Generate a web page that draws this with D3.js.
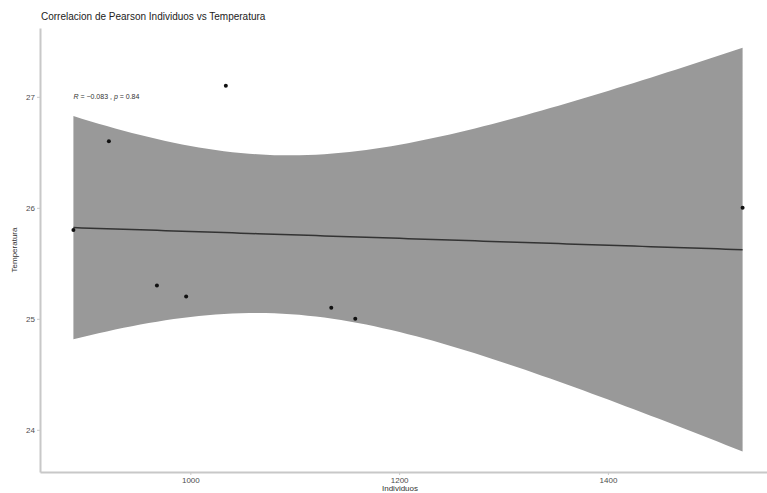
<!DOCTYPE html>
<html lang="es">
<head>
  <meta charset="utf-8">
  <script src="https://d3js.org/d3.v7.min.js"></script>
  <style>
    body { margin: 0; background: #fff; font-family: Arial, 'Liberation Sans', sans-serif; overflow: hidden; }
    .axis path, .axis line { stroke: #c8c8c8; }
    .axis text { fill: #4d4d4d; font-size: 8px; }
    .title { font-size: 10px; fill: #222; }
    .axis-title { font-size: 8px; fill: #333; }
    .annot { font-size: 7px; fill: #333; }
  </style>
</head>
<body>
  <svg id="chart" width="767" height="493"></svg>
  <script>
    // datos
    const individuos  = [888, 922, 968, 996, 1034, 1135, 1158, 1529];
    const temperatura = [25.8, 26.6, 25.3, 25.2, 27.1, 25.1, 25.0, 26.0];
    const xTicks = [1000, 1200, 1400];
    const yTicks = [24, 25, 26, 27];
    const tCrit = 2.447; // t 0.975, gl = 6

    const svg = d3.select("#chart");
    const x = d3.scaleLinear().domain([856, 1561]).range([40, 776]);
    const y = d3.scaleLinear().domain([23.62, 27.62]).range([472, 28]);

    // ajuste lineal + intervalo de confianza (como geom_smooth(method = "lm"))
    const n = individuos.length;
    const mx = d3.mean(individuos), my = d3.mean(temperatura);
    let sxx = 0, sxy = 0, syy = 0;
    individuos.forEach((xi, i) => {
      sxx += (xi - mx) ** 2;
      sxy += (xi - mx) * (temperatura[i] - my);
      syy += (temperatura[i] - my) ** 2;
    });
    const b = sxy / sxx, a = my - b * mx;
    const s = Math.sqrt((syy - sxy * sxy / sxx) / (n - 2));
    const [x0, x1] = d3.extent(individuos);
    const grid = d3.range(0, 81).map(k => x0 + (x1 - x0) * k / 80);
    const fit = grid.map(g => {
      const yh = a + b * g;
      const se = s * Math.sqrt(1 / n + (g - mx) ** 2 / sxx);
      return { x: g, y: yh, lo: yh - tCrit * se, hi: yh + tCrit * se };
    });

    svg.append("path")
      .datum(fit)
      .attr("fill", "#999999")
      .attr("d", d3.area().x(d => x(d.x)).y0(d => y(d.lo)).y1(d => y(d.hi)));

    svg.append("path")
      .datum(fit)
      .attr("fill", "none")
      .attr("stroke", "#333")
      .attr("stroke-width", 1.5)
      .attr("d", d3.line().x(d => x(d.x)).y(d => y(d.y)));

    svg.selectAll(".pt")
      .data(individuos.map((v, i) => [v, temperatura[i]]))
      .enter().append("circle")
      .attr("class", "pt")
      .attr("cx", d => x(d[0]))
      .attr("cy", d => y(d[1]))
      .attr("r", 2)
      .attr("fill", "#111");

    // ejes
    svg.append("g")
      .attr("class", "axis")
      .attr("transform", "translate(0,472)")
      .call(d3.axisBottom(x).tickValues(xTicks).tickFormat(d3.format("d"))
        .tickSize(3).tickPadding(2).tickSizeOuter(0))
      .select(".domain").attr("stroke-width", 2);

    svg.append("g")
      .attr("class", "axis")
      .attr("transform", "translate(40,0)")
      .call(d3.axisLeft(y).tickValues(yTicks).tickFormat(d3.format("d"))
        .tickSize(3).tickPadding(2).tickSizeOuter(0))
      .select(".domain").attr("stroke-width", 2);

    svg.append("text")
      .attr("class", "title")
      .attr("x", 41).attr("y", 20)
      .text("Correlacion de Pearson Individuos vs Temperatura");

    svg.append("text")
      .attr("class", "axis-title")
      .attr("text-anchor", "middle")
      .attr("transform", `translate(17,${y(25.62)}) rotate(-90)`)
      .text("Temperatura");

    svg.append("text")
      .attr("class", "axis-title")
      .attr("text-anchor", "middle")
      .attr("x", 400).attr("y", 491)
      .text("Individuos");

    const annot = svg.append("text")
      .attr("class", "annot")
      .attr("x", x(888)).attr("y", y(27.0) + 2);
    annot.append("tspan").attr("font-style", "italic").text("R");
    annot.append("tspan").text(" = \u22120.083 , ");
    annot.append("tspan").attr("font-style", "italic").text("p");
    annot.append("tspan").text(" = 0.84");
  </script>
</body>
</html>
